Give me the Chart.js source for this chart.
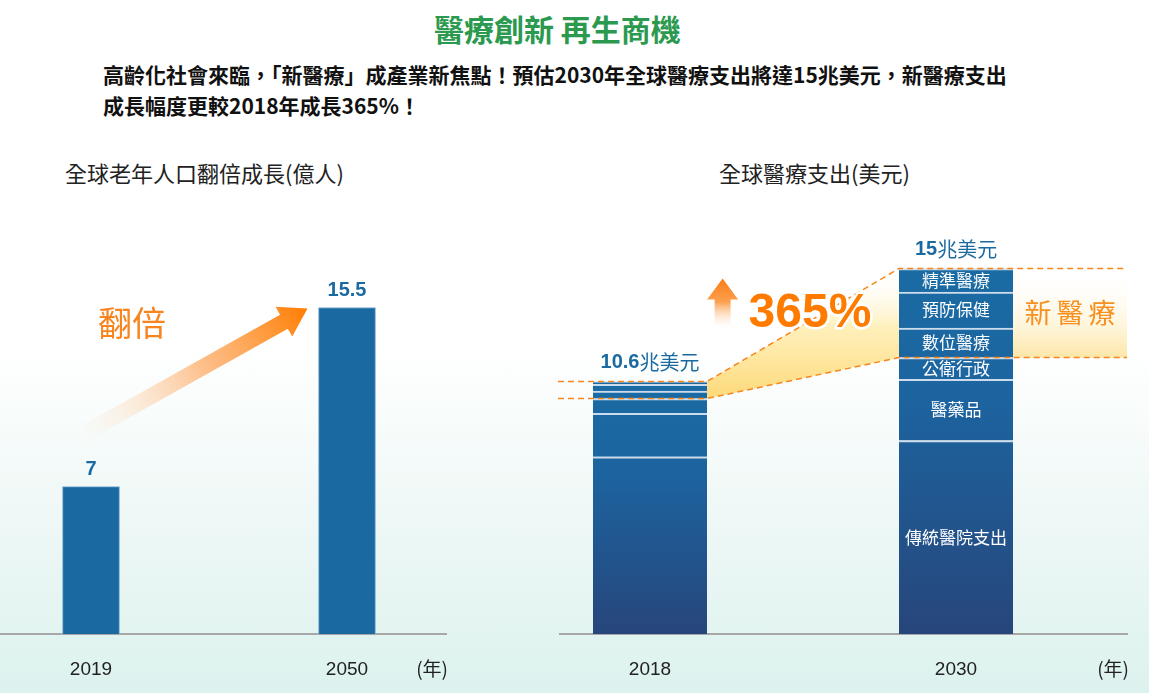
<!DOCTYPE html>
<html lang="zh-Hant">
<head>
<meta charset="UTF-8">
<title>醫療創新 再生商機</title>
<script src="https://cdn.jsdelivr.net/npm/chart.js@4.4.1/dist/chart.umd.min.js"></script>
<style>
    html, body { margin: 0; padding: 0; }
    body {
        width: 1149px; height: 693px; position: relative; overflow: hidden;
        font-family: "Noto Sans CJK TC", "Noto Sans", sans-serif;
        background: linear-gradient(to bottom, #ffffff 0%, #ffffff 50%, #eef8f6 75%, #dcf2ee 100%);
    }
    .headline {
        position: absolute; left: 434px; top: 8px;
        font-size: 30px; font-weight: bold; color: #2b9a4f; line-height: 40px;
    }
    .intro {
        position: absolute; left: 103px; top: 59px;
        font-size: 21px; font-weight: bold; color: #111; line-height: 31px;
    }
    .chart-title {
        position: absolute; top: 156px;
        font-size: 22px; color: #222; line-height: 32px;
    }
    canvas { position: absolute; top: 200px; }
</style>
</head>
<body>
<div class="headline">醫療創新 再生商機</div>
<div class="intro">高齡化社會來臨，「新醫療」成產業新焦點！預估2030年全球醫療支出將達15兆美元，新醫療支出<br>成長幅度更較2018年成長365%！</div>
<div class="chart-title" style="left:65px">全球老年人口翻倍成長(億人)</div>
<div class="chart-title" style="left:719px">全球醫療支出(美元)</div>
<canvas id="popChart" width="470" height="517" style="left:0"></canvas>
<canvas id="spendChart" width="609" height="517" style="left:540px"></canvas>

<script>
// ===== 資料：全球老年人口(億人) =====
const popYears = ['2019', '2050'];
const popValues = [7, 15.5];

// ===== 資料：全球醫療支出(兆美元) =====
const spendYears = ['2018', '2030'];
const spendLabels = ['10.6', '15'];
const segNames = ['傳統醫院支出', '醫藥品', '公衛行政', '數位醫療', '預防保健', '精準醫療'];
const hospital = [7.27, 7.94];
const pharma = [1.78, 2.51];
const publicHealth = [0.61, 0.89];
const digitalCare = [0.31, 1.21];
const prevention = [0.27, 1.48];
const precision = [0.12, 0.96];
const segSeries = [hospital, pharma, publicHealth, digitalCare, prevention, precision];
const newCareStart = 3; // 數位醫療以上 = 新醫療

const BLUE = '#1a6aa1';
const ORANGE = '#f7841f';

Chart.defaults.font.family = '"Noto Sans CJK TC", sans-serif';

// ===== 共用：年份軸 =====
function yearAxis(labels, min, max) {
    return {
        type: 'linear',
        min: min,
        max: max,
        bounds: 'data',
        offset: false,
        afterBuildTicks: axis => { axis.ticks = labels.map((_, i) => ({ value: i })); },
        ticks: {
            autoSkip: false,
            padding: 24,
            color: '#222',
            font: { family: '"Liberation Sans", Arial, sans-serif', size: 19 },
            callback: v => labels[v]
        },
        grid: { display: true, drawOnChartArea: false, drawTicks: false, offset: false },
        border: { display: true, color: '#a8a8a8', width: 2 }
    };
}

function drawYearUnit(chart) {
    const { ctx, chartArea } = chart;
    ctx.save();
    ctx.font = '19px "Noto Sans CJK TC", sans-serif';
    ctx.fillStyle = '#222';
    ctx.textAlign = 'right';
    ctx.textBaseline = 'middle';
    ctx.fillText('(年)', chartArea.right + 2, chartArea.bottom + 35);
    ctx.restore();
}

// 箭頭（漸層）
function drawArrow(ctx, x1, y1, x2, y2, shaftHalf, headHalf, headLen, colorFrom, colorTo) {
    const ang = Math.atan2(y2 - y1, x2 - x1);
    const len = Math.hypot(x2 - x1, y2 - y1);
    const g = ctx.createLinearGradient(x1, y1, x2, y2);
    g.addColorStop(0, colorFrom);
    g.addColorStop(0.55, 'rgba(253,170,100,0.75)');
    g.addColorStop(1, colorTo);
    ctx.save();
    ctx.translate(x1, y1);
    ctx.rotate(ang);
    ctx.beginPath();
    ctx.moveTo(0, -shaftHalf);
    ctx.lineTo(len - headLen, -shaftHalf);
    ctx.lineTo(len - headLen, -headHalf);
    ctx.lineTo(len, 0);
    ctx.lineTo(len - headLen, headHalf);
    ctx.lineTo(len - headLen, shaftHalf);
    ctx.lineTo(0, shaftHalf);
    ctx.closePath();
    ctx.rotate(-ang);
    ctx.translate(-x1, -y1);
    ctx.fillStyle = g;
    ctx.fill();
    ctx.restore();
}

// ===== 左圖裝飾 =====
const popDecor = {
    id: 'popDecor',
    afterDatasetsDraw(chart) {
        const { ctx } = chart;
        const bars = chart.getDatasetMeta(0).data;
        ctx.save();
        ctx.font = 'bold 20px "Liberation Sans", Arial, sans-serif';
        ctx.fillStyle = BLUE;
        ctx.textAlign = 'center';
        ctx.textBaseline = 'middle';
        bars.forEach((b, i) => ctx.fillText(String(popValues[i]), b.x, b.y - 17));

        const a = bars[0], b = bars[1];
        drawArrow(ctx, a.x - 16, a.y - 48, b.x - b.width / 2 - 11, b.y + 1,
            8, 17, 27, 'rgba(255,235,215,0)', '#ff7d00');

        ctx.font = '34px "Noto Sans CJK TC", sans-serif';
        ctx.fillStyle = ORANGE;
        ctx.fillText('翻倍', a.x + 41, b.y + 16);
        ctx.restore();
        drawYearUnit(chart);
    }
};

new Chart(document.getElementById('popChart'), {
    type: 'bar',
    data: {
        datasets: [{
            data: popValues.map((v, i) => ({ x: i, y: v })),
            backgroundColor: BLUE,
            borderColor: '#7aaad3',
            borderWidth: 1,
            borderSkipped: 'bottom',
            barThickness: 57
        }]
    },
    options: {
        responsive: false,
        animation: false,
        layout: { padding: { left: 0, right: 24, top: 0, bottom: 12 } },
        plugins: { legend: { display: false }, tooltip: { enabled: false } },
        scales: {
            x: yearAxis(popYears, -0.3555, 1.3867),
            y: { display: false, min: 0, max: 20.6 }
        }
    },
    plugins: [popDecor]
});

// ===== 右圖：長條漸層 =====
function sumAt(i, upto) {
    let s = 0;
    for (let k = 0; k < upto; k++) s += segSeries[k][i];
    return s;
}

function barGradient(context) {
    const chart = context.chart;
    const { ctx, chartArea, scales } = chart;
    if (!chartArea || context.dataIndex === undefined || !scales.y) return '#1d5f98';
    const i = context.dataIndex;
    const top = scales.y.getPixelForValue(sumAt(i, segSeries.length));
    const bottom = scales.y.getPixelForValue(0);
    const g = ctx.createLinearGradient(0, top, 0, bottom);
    g.addColorStop(0, '#1a6ba4');
    g.addColorStop(0.35, '#1c64a0');
    g.addColorStop(1, '#27467b');
    return g;
}

// ===== 右圖裝飾 =====
const spendDecor = {
    id: 'spendDecor',
    geometry(chart) {
        const y = chart.scales.y;
        const top = chart.getDatasetMeta(segSeries.length - 1).data;
        const a = top[0], b = top[1];
        return {
            aRight: a.x + a.width / 2,
            bLeft: b.x - b.width / 2,
            bRight: b.x + b.width / 2,
            aTop: y.getPixelForValue(sumAt(0, segSeries.length)),
            aNew: y.getPixelForValue(sumAt(0, newCareStart)),
            bTop: y.getPixelForValue(sumAt(1, segSeries.length)),
            bNew: y.getPixelForValue(sumAt(1, newCareStart)),
            left: chart.chartArea.left - 2,
            right: chart.chartArea.right,
            a: a, b: b
        };
    },
    beforeDatasetsDraw(chart) {
        const { ctx } = chart;
        const g = this.geometry(chart);
        ctx.save();
        // 成長楔形
        let grad = ctx.createLinearGradient(0, g.bTop, 0, g.aNew);
        grad.addColorStop(0, 'rgba(255,255,255,0)');
        grad.addColorStop(0.45, 'rgba(254,236,170,0.8)');
        grad.addColorStop(1, '#fdd978');
        ctx.beginPath();
        ctx.moveTo(g.aRight, g.aTop);
        ctx.lineTo(g.bLeft, g.bTop);
        ctx.lineTo(g.bLeft, g.bNew);
        ctx.lineTo(g.aRight, g.aNew);
        ctx.closePath();
        ctx.fillStyle = grad;
        ctx.fill();
        // 新醫療區塊
        grad = ctx.createLinearGradient(0, g.bTop, 0, g.bNew);
        grad.addColorStop(0, 'rgba(255,255,255,0)');
        grad.addColorStop(1, '#fde6a6');
        ctx.fillStyle = grad;
        ctx.fillRect(g.bRight, g.bTop, g.right - g.bRight, g.bNew - g.bTop);
        ctx.restore();
    },
    afterDatasetsDraw(chart) {
        const { ctx } = chart;
        const g = this.geometry(chart);
        ctx.save();

        // 虛線
        ctx.strokeStyle = '#f7861f';
        ctx.lineWidth = 1.5;
        ctx.setLineDash([6, 4]);
        [[g.aTop, g.bTop], [g.aNew, g.bNew]].forEach(([ya, yb]) => {
            ctx.beginPath();
            ctx.moveTo(g.left, ya);
            ctx.lineTo(g.aRight, ya);
            ctx.lineTo(g.bLeft, yb);
            ctx.lineTo(g.right, yb);
            ctx.stroke();
        });
        ctx.setLineDash([]);

        // 區段名稱 (2030)
        ctx.font = '17px "Noto Sans CJK TC", sans-serif';
        ctx.fillStyle = '#ffffff';
        ctx.textAlign = 'center';
        ctx.textBaseline = 'middle';
        segNames.forEach((name, k) => {
            const el = chart.getDatasetMeta(k).data[1];
            ctx.fillText(name, el.x, (el.y + el.base) / 2);
        });

        // 總額標籤
        ctx.textAlign = 'left';
        ctx.fillStyle = BLUE;
        [g.a, g.b].forEach((el, i) => {
            const yTop = i === 0 ? g.aTop : g.bTop;
            ctx.font = 'bold 20px "Liberation Sans", Arial, sans-serif';
            const w1 = ctx.measureText(spendLabels[i]).width;
            ctx.font = '20px "Noto Sans CJK TC", sans-serif';
            const w2 = ctx.measureText('兆美元').width;
            const x0 = el.x - (w1 + w2) / 2;
            ctx.font = 'bold 20px "Liberation Sans", Arial, sans-serif';
            ctx.fillText(spendLabels[i], x0, yTop - 19);
            ctx.font = '20px "Noto Sans CJK TC", sans-serif';
            ctx.fillText('兆美元', x0 + w1, yTop - 19);
        });

        // 365%
        const cx = (g.aRight + g.bLeft) / 2 + 7;
        const cy = g.bTop + 45;
        ctx.font = 'bold 48px "Liberation Sans", Arial, sans-serif';
        ctx.textAlign = 'center';
        const tw = ctx.measureText('365%').width;
        ctx.lineJoin = 'round';
        ctx.lineWidth = 5;
        ctx.strokeStyle = '#ffffff';
        ctx.strokeText('365%', cx, cy);
        ctx.fillStyle = '#ff7b00';
        ctx.fillText('365%', cx, cy);

        // 向上箭頭
        const ax = cx - tw / 2 - 26;
        const ug = ctx.createLinearGradient(0, g.bTop + 10, 0, g.bTop + 62);
        ug.addColorStop(0, '#fb7d15');
        ug.addColorStop(0.45, '#fca050');
        ug.addColorStop(1, 'rgba(255,255,255,0)');
        ctx.fillStyle = ug;
        ctx.beginPath();
        ctx.moveTo(ax, g.bTop + 10);
        ctx.lineTo(ax + 15.5, g.bTop + 31);
        ctx.lineTo(ax + 8, g.bTop + 31);
        ctx.lineTo(ax + 8, g.bTop + 62);
        ctx.lineTo(ax - 8, g.bTop + 62);
        ctx.lineTo(ax - 8, g.bTop + 31);
        ctx.lineTo(ax - 15.5, g.bTop + 31);
        ctx.closePath();
        ctx.fill();

        // 新醫療
        ctx.font = '27px "Noto Sans CJK TC", sans-serif';
        ctx.fillStyle = '#f7901e';
        const nx = (g.bRight + g.right) / 2;
        const ny = (g.bTop + g.bNew) / 2;
        ['新', '醫', '療'].forEach((ch, i) => ctx.fillText(ch, nx + (i - 1) * 32, ny));

        ctx.restore();
        drawYearUnit(chart);
    }
};

new Chart(document.getElementById('spendChart'), {
    type: 'bar',
    data: {
        datasets: segSeries.map((vals, k) => ({
            label: segNames[k],
            data: vals.map((v, i) => ({ x: i, y: v })),
            backgroundColor: barGradient,
            borderColor: '#cddcec',
            borderWidth: { top: 2, left: 0, right: 0, bottom: 0 },
            borderSkipped: false,
            barThickness: 114
        }))
    },
    options: {
        responsive: false,
        animation: false,
        layout: { padding: { left: 20, right: 22, top: 0, bottom: 12 } },
        plugins: { legend: { display: false }, tooltip: { enabled: false } },
        scales: {
            x: Object.assign(yearAxis(spendYears, -0.2941, 1.5588), { stacked: true }),
            y: { display: false, stacked: true, min: 0, max: 17.8 }
        }
    },
    plugins: [spendDecor]
});
</script>
</body>
</html>
